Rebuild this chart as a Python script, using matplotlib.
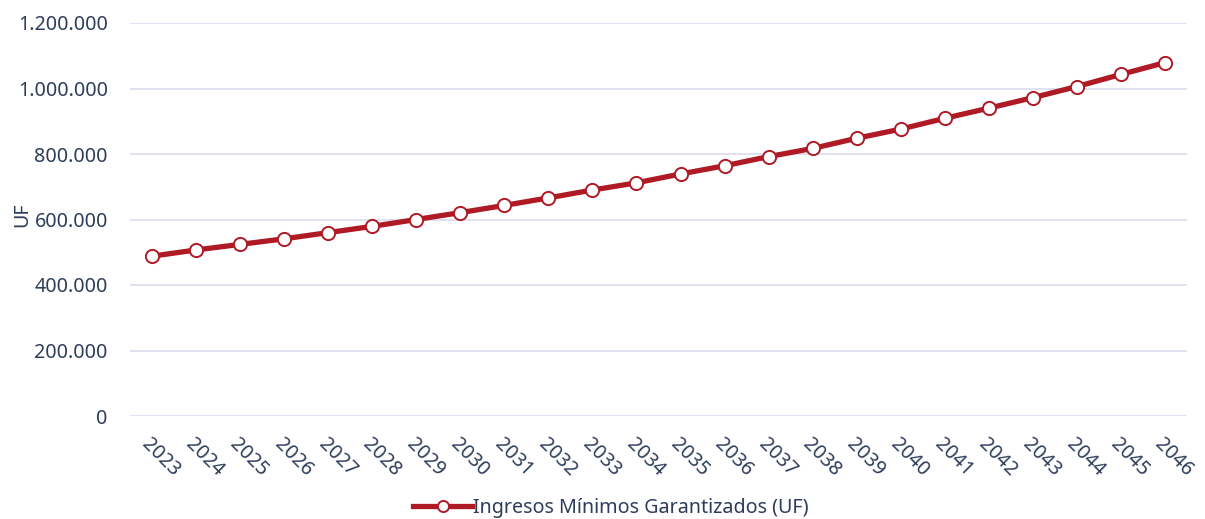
import matplotlib
matplotlib.use("Agg")
import matplotlib.pyplot as plt
from matplotlib.ticker import FuncFormatter, MultipleLocator

# Data
years = [str(y) for y in range(2023, 2047)]
ingresos_uf = [
    488000, 507000, 524000, 541000, 560000, 579000, 600000, 621000,
    643000, 666000, 690000, 712000, 739000, 764000, 792000, 817000,
    848000, 876000, 909000, 940000, 972000, 1006000, 1043000, 1079000,
]
series_label = "Ingresos Mínimos Garantizados (UF)"

text_color = "#2e3d5a"
line_color = "#b01a25"
grid_color = "#dcdff0"

plt.rcParams["font.family"] = ["Noto Sans", "DejaVu Sans"]
fs = 14.2

fig = plt.figure(figsize=(12.05, 5.19), dpi=100)
ax = fig.add_axes([130 / 1205, 1 - 416 / 519, (1187 - 130) / 1205, (416 - 23) / 519])

x = list(range(len(years)))
ax.plot(x, ingresos_uf, color=line_color, linewidth=3.8, marker="o",
        markersize=9.5, markerfacecolor="white", markeredgecolor=line_color,
        markeredgewidth=1.4, label=series_label, zorder=3)

ax.set_xlim(-0.5, len(years) - 0.5)
ax.set_ylim(0, 1200000)
ax.yaxis.set_major_locator(MultipleLocator(200000))
ax.yaxis.set_major_formatter(FuncFormatter(lambda v, p: f"{int(v):,}".replace(",", ".")))
ax.grid(axis="y", color=grid_color, linewidth=1.3)
ax.set_axisbelow(True)
for s in ax.spines.values():
    s.set_visible(False)

ax.set_xticks(x)
ax.set_xticklabels(years, rotation=-45, ha="left", va="top", rotation_mode="anchor")
ax.tick_params(axis="x", length=0, pad=13, labelsize=fs, colors=text_color)
ax.tick_params(axis="y", length=0, pad=16, labelsize=fs, colors=text_color)

ax.set_ylabel("UF", fontsize=fs, color=text_color, va="center")
ax.yaxis.set_label_coords((22 - 130) / 1057, (416 - 215) / 393)

leg = fig.legend(handles=ax.get_lines(), loc="center", bbox_to_anchor=(611 / 1205, 1 - 508 / 519),
                 frameon=False, fontsize=fs, handlelength=3.0, handletextpad=0.05,
                 borderpad=0, borderaxespad=0)
for line in leg.get_lines():
    line.set_markersize(8)
for t in leg.get_texts():
    t.set_color(text_color)

fig.savefig("out.png", dpi=100)
